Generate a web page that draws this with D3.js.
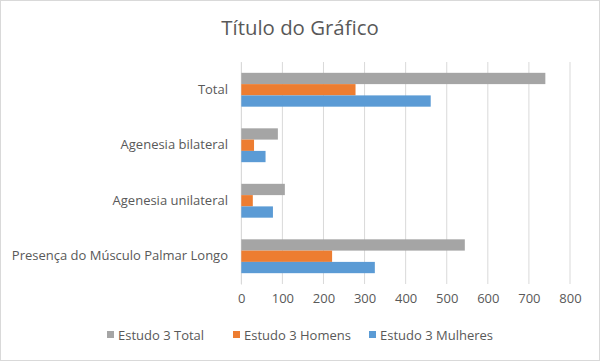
<!DOCTYPE html>
<html><head><meta charset="utf-8">
<script src="https://cdn.jsdelivr.net/npm/d3@7"></script>
<style>body{margin:0;background:#fff}svg{display:block}</style>
</head><body>
<script>
const categories = ["Total", "Agenesia bilateral", "Agenesia unilateral", "Presença do Músculo Palmar Longo"];
const seriesNames = ["Estudo 3 Total", "Estudo 3 Homens", "Estudo 3 Mulheres"];
const totalValues = [740, 89, 106, 544];
const homensValues = [278, 31, 28, 221];
const mulheresValues = [461, 59, 77, 325];
const tickValues = [0, 100, 200, 300, 400, 500, 600, 700, 800];
const colors = ["#A5A5A5", "#ED7D31", "#5B9BD5"];

const W = 600, H = 361;
const font = "'Open Sans', sans-serif";
const svg = d3.select("body").append("svg").attr("width", W).attr("height", H);
svg.append("rect").attr("x", 0.5).attr("y", 0.5).attr("width", W - 1).attr("height", H - 1)
  .attr("fill", "#fff").attr("stroke", "#d9d9d9");

const x = d3.scaleLinear().domain([0, 800]).range([241.3, 570]);
const y = d3.scaleBand().domain(categories).range([62, 284]).paddingInner(0.39).paddingOuter(0.195);
const ySub = d3.scaleBand().domain(seriesNames).range([0, y.bandwidth()]);

svg.append("text").attr("x", 300).attr("y", 35).attr("text-anchor", "middle")
  .attr("font-family", font).attr("font-size", 20.4).attr("fill", "#595959").text("Título do Gráfico");

const grid = svg.append("g");
grid.selectAll("line").data(tickValues).join("line")
  .attr("x1", d => x(d)).attr("x2", d => x(d)).attr("y1", 62).attr("y2", 284)
  .attr("stroke", "#d9d9d9").attr("stroke-width", 1);

const xAxis = svg.append("g").attr("transform", "translate(0,284)")
  .call(d3.axisBottom(x).tickValues(tickValues).tickSize(0).tickPadding(10));
xAxis.select(".domain").remove();
xAxis.selectAll("text").attr("font-family", font).attr("font-size", 13).attr("fill", "#595959");

const yAxis = svg.append("g").attr("transform", "translate(241,0)")
  .call(d3.axisLeft(y).tickSize(0).tickPadding(13));
yAxis.select(".domain").attr("stroke", "#d9d9d9");
yAxis.selectAll("text").attr("font-family", font).attr("font-size", 13).attr("fill", "#595959");

const data = categories.map((c, i) => ({c, vals: [totalValues[i], homensValues[i], mulheresValues[i]]}));
const groups = svg.append("g").selectAll("g").data(data).join("g")
  .attr("transform", d => `translate(0,${y(d.c)})`);
groups.selectAll("rect").data(d => d.vals.map((v, j) => ({v, s: seriesNames[j], j}))).join("rect")
  .attr("x", x(0)).attr("y", d => ySub(d.s)).attr("height", ySub.bandwidth())
  .attr("width", d => x(d.v) - x(0)).attr("fill", d => colors[d.j]);

const legendX = [107, 233, 369];
const leg = svg.append("g").selectAll("g").data(seriesNames).join("g")
  .attr("transform", (d, i) => `translate(${legendX[i]},335)`);
leg.append("rect").attr("x", 0).attr("y", -4).attr("width", 7).attr("height", 7).attr("fill", (d, i) => colors[i]);
leg.append("text").attr("x", 11).attr("y", 4.5).attr("font-family", font).attr("font-size", 13)
  .attr("fill", "#595959").text(d => d);
</script>
</body></html>
